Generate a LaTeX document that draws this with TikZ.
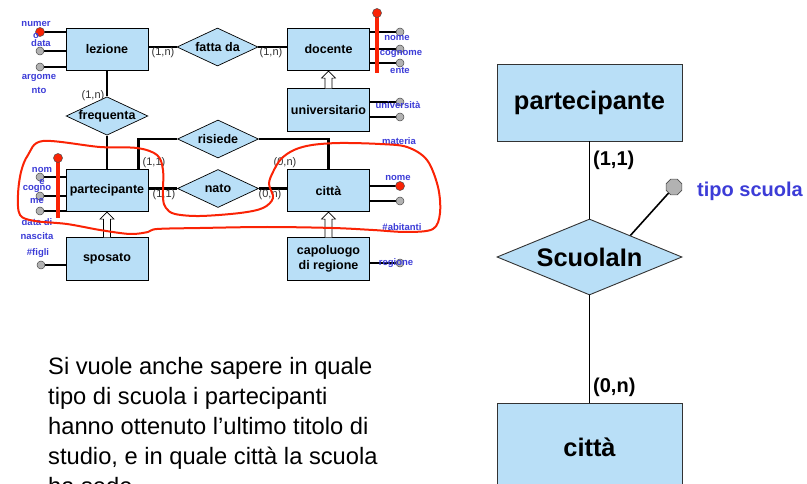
\documentclass[tikz,border=0pt]{standalone}
\usepackage{fontspec}
\setmainfont{Liberation Sans}
\usetikzlibrary{shapes.geometric,calc}
\definecolor{boxblue}{RGB}{185,223,247}
\definecolor{lblue}{RGB}{60,60,215}
\definecolor{keyred}{RGB}{250,35,5}
\definecolor{cardgray}{RGB}{50,50,50}
\begin{document}
\begin{tikzpicture}[x=1pt,y=-1pt,
 ent/.style={rectangle,draw=black,line width=0.7pt,fill=boxblue,minimum width=82pt,minimum height=42.5pt,inner sep=0pt,font=\fontsize{12.5}{15}\selectfont\bfseries,align=center},
 rel/.style={diamond,draw=black,line width=0.7pt,fill=boxblue,minimum width=81pt,minimum height=38pt,inner sep=0pt,aspect=2.13,font=\fontsize{12.5}{15}\selectfont\bfseries},
 conn/.style={line width=2.8pt},
 attr/.style={circle,draw=black!70,line width=0.5pt,fill=black!30,minimum size=8pt,inner sep=0pt},
 keyattr/.style={circle,draw=black!70,line width=0.5pt,fill=keyred,minimum size=9pt,inner sep=0pt},
 keyline/.style={draw=keyred,line width=3.2pt},
 alab/.style={text=lblue,font=\fontsize{9.5}{10}\selectfont\bfseries,inner sep=0pt},
 card/.style={text=cardgray,font=\fontsize{11}{12}\selectfont,inner sep=0pt},
 isa/.style={draw=black,line width=0.6pt,fill=white},
 bigent/.style={rectangle,draw=black!80,line width=0.9pt,fill=boxblue,minimum width=185pt,minimum height=77pt,inner sep=0pt,font=\fontsize{25.4}{28}\selectfont\bfseries},
 bigrel/.style={diamond,draw=black!80,line width=0.9pt,fill=boxblue,minimum width=185pt,minimum height=76pt,inner sep=0pt,aspect=2.43,font=\fontsize{25.4}{28}\selectfont\bfseries},
 bigline/.style={line width=1.6pt},
 bigcard/.style={font=\fontsize{20}{22}\selectfont\bfseries,inner sep=0pt,anchor=base west},
 para/.style={font=\fontsize{23.7}{29.5}\selectfont,inner sep=0pt,anchor=base west},
 redcurve/.style={draw=keyred,line width=2pt}
]
\useasboundingbox (0,0) rectangle (807,484);
\clip (0,0) rectangle (807,484);

% ---------- small diagram: entities and relationships
\node[ent] (lez) at (107,49.5) {lezione};
\node[rel] (fatta) at (217.5,47) {fatta da};
\node[ent] (doc) at (328.5,49.5) {docente};
\node[ent] (univ) at (328.5,110) {universitario};
\node[rel] (freq) at (107,116) {frequenta};
\node[ent] (part) at (107,190.5) {partecipante};
\node[ent] (spos) at (107,259) {sposato};
\node[rel] (ris) at (218,139) {risiede};
\node[rel] (nato) at (218,188.5) {nato};
\node[ent] (citta) at (328.5,190.5) {città};
\node[ent] (capo) at (328.5,259) {capoluogo\\di regione};

% connectors
\draw[conn] (fatta.west) -- (fatta.west -| lez.east);
\draw[conn] (fatta.east) -- (fatta.east -| doc.west);
\draw[conn] (lez.south) -- (freq.north);
\draw[conn] (freq.south) -- (part.north);
\draw[conn] ([xshift=-10pt]part.north east) |- (ris.west);
\draw[conn] (ris.east) -| (citta.north);
\draw[conn] (nato.west) -- (nato.west -| part.east);
\draw[conn] (nato.east) -- (nato.east -| citta.west);

% generalisations
\draw[isa] ([xshift=-3.5pt]univ.north) -- ([xshift=-3.5pt,yshift=-7pt]doc.south) -- ([xshift=-7pt,yshift=-7pt]doc.south) -- (doc.south) -- ([xshift=7pt,yshift=-7pt]doc.south) -- ([xshift=3.5pt,yshift=-7pt]doc.south) -- ([xshift=3.5pt]univ.north);
\draw[isa] ([xshift=-3.5pt]spos.north) -- ([xshift=-3.5pt,yshift=-7pt]part.south) -- ([xshift=-7pt,yshift=-7pt]part.south) -- (part.south) -- ([xshift=7pt,yshift=-7pt]part.south) -- ([xshift=3.5pt,yshift=-7pt]part.south) -- ([xshift=3.5pt]spos.north);
\draw[isa] ([xshift=-3.5pt]capo.north) -- ([xshift=-3.5pt,yshift=-7pt]citta.south) -- ([xshift=-7pt,yshift=-7pt]citta.south) -- (citta.south) -- ([xshift=7pt,yshift=-7pt]citta.south) -- ([xshift=3.5pt,yshift=-7pt]citta.south) -- ([xshift=3.5pt]capo.north);

% attributes
\draw[conn] (lez.west |- 0,32) -- (40,32) node[keyattr] (lz1) {};
\draw[conn] (lez.west |- 0,51) -- (40,51) node[attr] (lz2) {};
\draw[conn] (lez.west |- 0,67) -- (40,67) node[attr] (lz3) {};

\draw[conn] (doc.east |- 0,32) -- (400,32) node[attr] (dc1) {};
\draw[conn] (doc.east |- 0,49) -- (400,49) node[attr] (dc2) {};
\draw[conn] (doc.east |- 0,63) -- (400,63) node[attr] (dc3) {};
\draw[keyline] (377,73) coordinate (dkend) -- (377,13) node[keyattr] (dk) {};

\draw[conn] (univ.east |- 0,102) -- (400,102) node[attr] (un1) {};
\draw[conn] (univ.east |- 0,117) -- (400,117) node[attr] (un2) {};

\draw[conn] (part.west |- 0,177) -- (40,177) node[attr] (pa1) {};
\draw[conn] (part.west |- 0,196) -- (40,196) node[attr] (pa2) {};
\draw[conn] (part.west |- 0,211) -- (40,211) node[attr] (pa3) {};
\draw[keyline] (58,218) coordinate (pkend) -- (58,158) node[keyattr] (pk) {};

\draw[conn] (spos.west |- 0,265) -- (41,265) node[attr] (sp1) {};

\draw[conn] (citta.east |- 0,186) -- (400,186) node[keyattr] (ci1) {};
\draw[conn] (citta.east |- 0,201) -- (400,201) node[attr] (ci2) {};

\draw[conn] (capo.east |- 0,263) -- (400,263) node[attr] (ca1) {};

% attribute labels
\node[alab] (l1) at (36,24) {numer};
\node[alab] (l2) at (36,36) {o};
\node[alab] (l3) at (41,43) {data};
\node[alab] (l4) at (39,78) {argome};
\node[alab] (l5) at (39,90) {nto};
\node[alab] (l6) at (397,38) {nome};
\node[alab] (l7) at (401,54) {cognome};
\node[alab] (l8) at (400,70) {ente};
\node[alab] (l9) at (398,105) {università};
\node[alab] (l10) at (399,141) {materia};
\node[alab] (l11) at (42,170) {nom};
\node[alab] (l12) at (42,182) {e};
\node[alab] (l13) at (37,189) {cogno};
\node[alab] (l14) at (37,201) {me};
\node[alab] (l15) at (37,222) {data di};
\node[alab] (l16) at (37,236) {nascita};
\node[alab] (l17) at (38,253) {\#figli};
\node[alab] (l18) at (398,178) {nome};
\node[alab] (l19) at (402,227) {\#abitanti};
\node[alab] (l20) at (396,263) {regione};

% cardinalities
\node[card] (c1) at (163,53) {(1,n)};
\node[card] (c2) at (271,53) {(1,n)};
\node[card] (c3) at (93,96) {(1,n)};
\node[card] (c4) at (154,163) {(1,1)};
\node[card] (c5) at (285,163) {(0,n)};
\node[card] (c6) at (164,195) {(1,1)};
\node[card] (c7) at (270,195) {(0,n)};

% red freehand loop
\draw[redcurve] plot[smooth cycle,tension=0.55] coordinates {
 (43,141) (100,147) (137,148) (157,155) (163,170) (163,198) (166,208) (175,214)
 (200,216) (240,213) (263,208) (273,198) (269,184) (273,172) (281,159) (294,150)
 (312,145) (340,143) (380,144) (407,147) (427,160) (438,187) (440,213) (433,229)
 (407,232) (373,230) (333,228) (267,227) (200,228) (157,229) (148,232) (130,234)
 (100,230) (67,224) (35,221) (20,215) (18,195) (21,172) (28,155)};

% ---------- paragraph
\node[para] (t1) at (48,374) {Si vuole anche sapere in quale};
\node[para] (t2) at (48,404) {tipo di scuola i partecipanti};
\node[para] (t3) at (48,434) {hanno ottenuto l’ultimo titolo di};
\node[para] (t4) at (48,464) {studio, e in quale città la scuola};
\node[para] (t5) at (48,494) {ha sede};

% ---------- right diagram
\node[bigent] (P2) at (589.5,102.5) {partecipante};
\node[bigrel] (S2) at (589.5,257) {ScuolaIn};
\node[bigent,minimum height=88pt] (C2) at (589.5,447) {città};
\draw[bigline] (P2) -- (S2);
\draw[bigline] (S2) -- (C2);
\node[regular polygon,regular polygon sides=8,minimum size=17pt,inner sep=0pt,draw=black!70,line width=0.6pt,fill=black!30] (ts) at (674,187) {};
\draw[bigline] (ts) -- ($(S2.north)!0.44!(S2.east)$);
\node[bigcard,text=lblue] (tsl) at (697,197) {tipo scuola};
\node[bigcard] (bc1) at (593,166) {(1,1)};
\node[bigcard] (bc2) at (593,392) {(0,n)};
\end{tikzpicture}
\end{document}
